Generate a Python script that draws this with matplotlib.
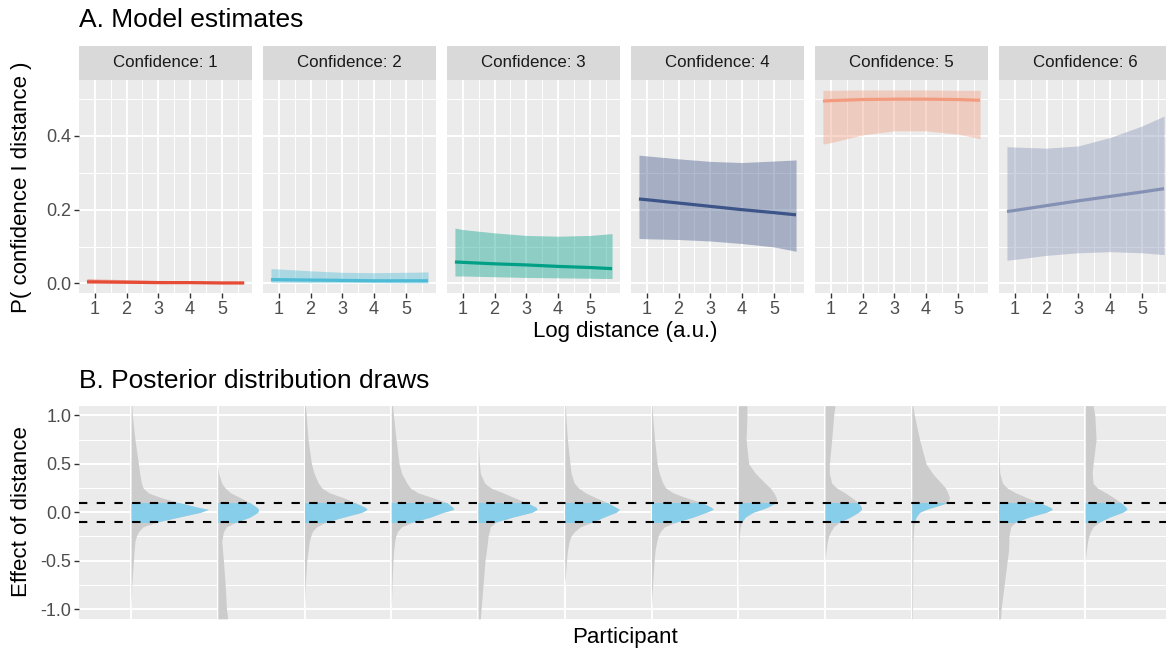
import matplotlib
matplotlib.use("Agg")
import matplotlib.pyplot as plt
from matplotlib.patches import Rectangle
import numpy as np

plt.rcParams['font.family'] = ['Liberation Sans', 'DejaVu Sans']

# ---- Panel A: model estimates ----
conf_labels = ['Confidence: 1', 'Confidence: 2', 'Confidence: 3',
               'Confidence: 4', 'Confidence: 5', 'Confidence: 6']
conf_colors = ['#E64B35', '#4DBBD5', '#00A087', '#3C5488', '#F39B7F', '#8491B4']
log_dist = [0.75, 1, 2, 3, 4, 5, 5.7]

est_1 = [0.004, 0.004, 0.003, 0.002, 0.002, 0.001, 0.001]
upr_1 = [0.013, 0.012, 0.010, 0.008, 0.007, 0.006, 0.006]
lwr_1 = [0.001, 0.001, 0.001, 0.001, 0.000, 0.000, 0.000]

est_2 = [0.010, 0.010, 0.009, 0.008, 0.007, 0.007, 0.007]
upr_2 = [0.040, 0.039, 0.034, 0.030, 0.029, 0.030, 0.031]
lwr_2 = [0.003, 0.003, 0.002, 0.002, 0.002, 0.001, 0.001]

est_3 = [0.058, 0.057, 0.053, 0.050, 0.046, 0.043, 0.040]
upr_3 = [0.150, 0.146, 0.137, 0.130, 0.128, 0.130, 0.135]
lwr_3 = [0.020, 0.020, 0.018, 0.016, 0.015, 0.014, 0.013]

est_4 = [0.229, 0.227, 0.218, 0.209, 0.200, 0.192, 0.186]
upr_4 = [0.348, 0.346, 0.338, 0.331, 0.328, 0.332, 0.335]
lwr_4 = [0.122, 0.121, 0.119, 0.115, 0.108, 0.099, 0.087]

est_5 = [0.495, 0.496, 0.499, 0.500, 0.500, 0.499, 0.497]
upr_5 = [0.524, 0.524, 0.525, 0.525, 0.525, 0.524, 0.524]
lwr_5 = [0.378, 0.382, 0.403, 0.414, 0.414, 0.405, 0.393]

est_6 = [0.195, 0.198, 0.211, 0.224, 0.236, 0.248, 0.257]
upr_6 = [0.371, 0.370, 0.367, 0.373, 0.396, 0.427, 0.454]
lwr_6 = [0.063, 0.065, 0.076, 0.083, 0.086, 0.083, 0.078]

estimates = [est_1, est_2, est_3, est_4, est_5, est_6]
uppers = [upr_1, upr_2, upr_3, upr_4, upr_5, upr_6]
lowers = [lwr_1, lwr_2, lwr_3, lwr_4, lwr_5, lwr_6]

# ---- Panel B: posterior densities per participant (width as fraction of spacing) ----
effect = [1.1, 1.0, 0.75, 0.5, 0.4, 0.3, 0.25, 0.2, 0.15, 0.1, 0.05, 0.03, 0.0,
          -0.05, -0.1, -0.15, -0.2, -0.25, -0.3, -0.4, -0.5, -0.75, -1.0, -1.1]
dens_p1 = [0.01, 0.015, 0.045, 0.085, 0.10, 0.12, 0.14, 0.20, 0.35, 0.55, 0.78, 0.89, 0.80,
           0.55, 0.30, 0.14, 0.085, 0.06, 0.046, 0.035, 0.027, 0.008, 0.0, 0.0]
dens_p2 = [0.0, 0.0, 0.0, 0.0, 0.01, 0.045, 0.085, 0.15, 0.26, 0.37, 0.45, 0.47, 0.46,
           0.37, 0.22, 0.10, 0.065, 0.055, 0.046, 0.055, 0.065, 0.085, 0.10, 0.115]
dens_p3 = [0.01, 0.02, 0.04, 0.08, 0.11, 0.16, 0.20, 0.29, 0.45, 0.58, 0.70, 0.72, 0.66,
           0.45, 0.25, 0.14, 0.09, 0.07, 0.055, 0.04, 0.025, 0.008, 0.0, 0.0]
dens_p4 = [0.015, 0.025, 0.055, 0.09, 0.12, 0.18, 0.22, 0.31, 0.48, 0.64, 0.71, 0.72, 0.60,
           0.45, 0.25, 0.12, 0.07, 0.05, 0.04, 0.027, 0.02, 0.008, 0.0, 0.0]
dens_p5 = [0.0, 0.0, 0.0, 0.015, 0.027, 0.077, 0.15, 0.29, 0.42, 0.56, 0.67, 0.68, 0.62,
           0.40, 0.21, 0.14, 0.13, 0.115, 0.11, 0.096, 0.08, 0.058, 0.035, 0.027]
dens_p6 = [0.008, 0.012, 0.03, 0.06, 0.073, 0.11, 0.16, 0.24, 0.36, 0.49, 0.59, 0.63, 0.59,
           0.45, 0.32, 0.18, 0.11, 0.07, 0.05, 0.03, 0.02, 0.0, 0.0, 0.0]
dens_p7 = [0.008, 0.012, 0.035, 0.065, 0.09, 0.13, 0.165, 0.25, 0.40, 0.58, 0.69, 0.71, 0.63,
           0.48, 0.29, 0.15, 0.10, 0.075, 0.06, 0.04, 0.03, 0.012, 0.0, 0.0]
dens_p8 = [0.10, 0.10, 0.09, 0.12, 0.20, 0.31, 0.37, 0.41, 0.44, 0.44, 0.33, 0.27, 0.17,
           0.08, 0.04, 0.023, 0.015, 0.011, 0.008, 0.006, 0.004, 0.002, 0.0, 0.0]
dens_p9 = [0.115, 0.10, 0.077, 0.05, 0.05, 0.077, 0.135, 0.23, 0.31, 0.385, 0.42, 0.42, 0.385,
           0.29, 0.17, 0.10, 0.065, 0.04, 0.027, 0.012, 0.0, 0.0, 0.0, 0.0]
dens_p10 = [0.012, 0.03, 0.09, 0.165, 0.24, 0.34, 0.39, 0.415, 0.435, 0.415, 0.24, 0.165, 0.09,
            0.05, 0.03, 0.023, 0.02, 0.017, 0.015, 0.013, 0.012, 0.01, 0.008, 0.008]
dens_p11 = [0.0, 0.0, 0.004, 0.008, 0.015, 0.046, 0.10, 0.20, 0.33, 0.47, 0.60, 0.62, 0.55,
            0.35, 0.20, 0.14, 0.13, 0.12, 0.12, 0.115, 0.10, 0.065, 0.03, 0.023]
dens_p12 = [0.09, 0.11, 0.125, 0.09, 0.08, 0.09, 0.14, 0.24, 0.33, 0.41, 0.47, 0.48, 0.43,
            0.28, 0.165, 0.09, 0.06, 0.04, 0.027, 0.012, 0.0, 0.0, 0.0, 0.0]
densities = [dens_p1, dens_p2, dens_p3, dens_p4, dens_p5, dens_p6,
             dens_p7, dens_p8, dens_p9, dens_p10, dens_p11, dens_p12]
rope = [-0.1, 0.1]

BG = '#EBEBEB'
TITLE_FS = 19
AXIS_FS = 16
W, H = 1166, 652
fig = plt.figure(figsize=(W / 100, H / 100), dpi=100)


def px_ax(x0, y0, x1, y1):
    return fig.add_axes([x0 / W, 1 - y1 / H, (x1 - x0) / W, (y1 - y0) / H])


def gg_style(ax):
    ax.set_facecolor(BG)
    for s in ax.spines.values():
        s.set_visible(False)
    ax.grid(True, which='major', color='white', lw=1.4)
    ax.grid(True, which='minor', color='white', lw=0.7)
    ax.set_axisbelow(True)
    ax.tick_params(which='major', length=3.5, width=1.0, color='#333333',
                   labelcolor='#4D4D4D', labelsize=13, pad=2)
    ax.tick_params(which='minor', length=0)


# ---- Panel A ----
for i in range(6):
    x0 = 79 + i * 184
    ax = px_ax(x0, 80, x0 + 173, 293.3)
    gg_style(ax)
    ax.fill_between(log_dist, lowers[i], uppers[i], color=conf_colors[i], alpha=0.4, lw=0)
    ax.plot(log_dist, estimates[i], color=conf_colors[i], lw=2.3, solid_capstyle='butt')
    ax.set_xlim(0.5, 5.95)
    ax.set_ylim(-0.027, 0.552)
    ax.set_xticks([1, 2, 3, 4, 5])
    ax.set_xticks([1.5, 2.5, 3.5, 4.5, 5.5], minor=True)
    ax.set_yticks([0.0, 0.2, 0.4])
    ax.set_yticks([0.1, 0.3, 0.5], minor=True)
    if i == 0:
        ax.set_yticklabels(['0.0', '0.2', '0.4'])
    else:
        ax.tick_params(axis='y', which='both', length=0, labelleft=False)
    st = px_ax(x0, 45.5, x0 + 173, 80)
    st.set_facecolor('#D9D9D9')
    for s in st.spines.values():
        s.set_visible(False)
    st.set_xticks([])
    st.set_yticks([])
    st.text(0.5, 0.5, conf_labels[i], ha='center', va='center', fontsize=12.2,
            color='#1A1A1A', transform=st.transAxes)

fig.text(79 / W, 1 - 20 / H, 'A. Model estimates', fontsize=TITLE_FS, ha='left', va='center')
fig.text(625 / W, 1 - 332 / H, 'Log distance (a.u.)', fontsize=AXIS_FS, ha='center', va='center')
fig.text(22 / W, 1 - 187 / H, 'P( confidence I distance )', fontsize=AXIS_FS, rotation=90,
         ha='center', va='center')

# ---- Panel B ----
axb = px_ax(79, 405.7, 1172, 619.3)
gg_style(axb)
axb.set_xlim(0.4, 13.0)
axb.set_ylim(-1.105, 1.1)
positions = np.arange(1, len(densities) + 1)
axb.set_xticks(positions)
axb.tick_params(axis='x', which='both', length=0, labelbottom=False)
axb.set_yticks([-1.0, -0.5, 0.0, 0.5, 1.0])
axb.set_yticklabels(['-1.0', '-0.5', '0.0', '0.5', '1.0'])
axb.set_yticks([-0.75, -0.25, 0.25, 0.75], minor=True)
clip = Rectangle((0.4, rope[0]), 12.6, rope[1] - rope[0], transform=axb.transData)
for pos, dens in zip(positions, densities):
    right = pos + np.array(dens)
    axb.fill_betweenx(effect, pos, right, color='#CCCCCC', lw=0)
    blue = axb.fill_betweenx(effect, pos, right, color='#87CEEB', lw=0)
    blue.set_clip_path(clip)
for r in rope:
    axb.axhline(r, color='black', lw=1.5, ls=(0, (4, 4.5)))

fig.text(79 / W, 1 - 381 / H, 'B. Posterior distribution draws', fontsize=TITLE_FS,
         ha='left', va='center')
fig.text(625 / W, 1 - 637 / H, 'Participant', fontsize=AXIS_FS, ha='center', va='center')
fig.text(22 / W, 1 - 512 / H, 'Effect of distance', fontsize=AXIS_FS, rotation=90,
         ha='center', va='center')

fig.savefig('out.png', dpi=100)
